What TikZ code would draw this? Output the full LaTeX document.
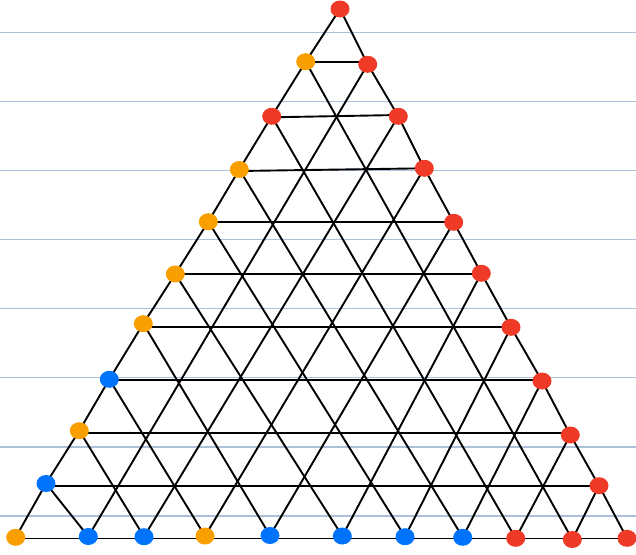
\documentclass[tikz,border=0pt]{standalone}
\usetikzlibrary{shapes.geometric}
\definecolor{rulecol}{RGB}{172,192,218}
\definecolor{dotred}{RGB}{238,58,38}
\definecolor{dotorange}{RGB}{249,160,0}
\definecolor{dotblue}{RGB}{0,115,252}
\begin{document}
\begin{tikzpicture}[x=1pt,y=-1pt,
  gridline/.style={black,line width=1.9pt},
  ruleline/.style={rulecol,line width=1.3pt},
  dot/.style={ellipse,inner sep=0pt,minimum width=19pt,minimum height=17pt,draw=none}]
\useasboundingbox (0,0) rectangle (636,554);
\fill[white] (0,0) rectangle (636,554);
% ruled paper lines
\foreach \k in {0,...,7}{
  \draw[ruleline] (0,32.3+69.1*\k) -- (636,32.3+69.1*\k);
}
% boundary points
\coordinate (l0) at (15.7,537.3);
\coordinate (l1) at (46,483.5);
\coordinate (l2) at (79.3,430.7);
\coordinate (l3) at (109.3,379.3);
\coordinate (l4) at (143.3,323.7);
\coordinate (l5) at (175.3,274);
\coordinate (l6) at (208.3,221.7);
\coordinate (l7) at (239.3,169.5);
\coordinate (l8) at (271.7,116.3);
\coordinate (l9) at (305.7,61.7);
\coordinate (l10) at (340,9);
\coordinate (r0) at (627,538.3);
\coordinate (r1) at (599,485.7);
\coordinate (r2) at (570.3,435);
\coordinate (r3) at (542,381);
\coordinate (r4) at (511,327.3);
\coordinate (r5) at (481.3,273.3);
\coordinate (r6) at (453.7,222.3);
\coordinate (r7) at (424.3,168.3);
\coordinate (r8) at (398.3,116.3);
\coordinate (r9) at (367.7,64.3);
\coordinate (r10) at (340,9);
\coordinate (b0) at (15.7,537.3);
\coordinate (b1) at (88.3,536.5);
\coordinate (b2) at (144,536.7);
\coordinate (b3) at (205,536);
\coordinate (b4) at (270,535.5);
\coordinate (b5) at (342.3,536);
\coordinate (b6) at (405,536.7);
\coordinate (b7) at (462.7,537.3);
\coordinate (b8) at (515.7,538.3);
\coordinate (b9) at (572.3,539.5);
\coordinate (b10) at (627,538.3);
% ends of the horizontal rows
\coordinate (hl0) at (15.7,538.5);   \coordinate (hr0) at (627,538.5);
\coordinate (hl1) at (46,485.7);     \coordinate (hr1) at (599,485.7);
\coordinate (hl2) at (79.3,432.7);   \coordinate (hr2) at (570.3,432.7);
\coordinate (hl3) at (109.3,380.2);  \coordinate (hr3) at (542,380.2);
\coordinate (hl4) at (143.3,326.8);  \coordinate (hr4) at (511,326.8);
\coordinate (hl5) at (175.3,273.8);  \coordinate (hr5) at (481.3,273.8);
\coordinate (hl6) at (208.3,221.7);  \coordinate (hr6) at (453.7,221.7);
\coordinate (hl7) at (239.3,171);    \coordinate (hr7) at (424.3,168.3);
\coordinate (hl8) at (271.7,117.3);  \coordinate (hr8) at (398.3,115);
\coordinate (hl9) at (305.7,61.7);   \coordinate (hr9) at (367.7,61.7);
% edges
\draw[gridline,line join=round] (l0)--(l1)--(l2)--(l3)--(l4)--(l5)--(l6)--(l7)--(l8)--(l9)--(l10);
\draw[gridline,line join=round] (r0)--(r1)--(r2)--(r3)--(r4)--(r5)--(r6)--(r7)--(r8)--(r9)--(r10);
\draw[gridline] (hl0)--(hr0);
% interior lines
\foreach \i [evaluate=\i as \j using int(10-\i)] in {1,...,9}{
  \draw[gridline] (hl\i) -- (hr\i);
  \draw[gridline] (b\i) -- (l\i);
  \draw[gridline] (b\i) -- (r\j);
}
% dots
\node[dot,fill=dotred] (apex) at (l10) {};
\node[dot,fill=dotorange] (dl0) at (l0) {};
\node[dot,fill=dotblue] (dl1) at (l1) {};
\node[dot,fill=dotorange] (dl2) at (l2) {};
\node[dot,fill=dotblue] (dl3) at (l3) {};
\node[dot,fill=dotorange] (dl4) at (l4) {};
\node[dot,fill=dotorange] (dl5) at (l5) {};
\node[dot,fill=dotorange] (dl6) at (l6) {};
\node[dot,fill=dotorange] (dl7) at (l7) {};
\node[dot,fill=dotred] (dl8) at (l8) {};
\node[dot,fill=dotorange] (dl9) at (l9) {};
\foreach \i in {0,...,9}{
  \node[dot,fill=dotred] (dr\i) at (r\i) {};
}
\node[dot,fill=dotblue] (db1) at (b1) {};
\node[dot,fill=dotblue] (db2) at (b2) {};
\node[dot,fill=dotorange] (db3) at (b3) {};
\node[dot,fill=dotblue] (db4) at (b4) {};
\node[dot,fill=dotblue] (db5) at (b5) {};
\node[dot,fill=dotblue] (db6) at (b6) {};
\node[dot,fill=dotblue] (db7) at (b7) {};
\node[dot,fill=dotred] (db8) at (b8) {};
\node[dot,fill=dotred] (db9) at (b9) {};
\end{tikzpicture}
\end{document}
